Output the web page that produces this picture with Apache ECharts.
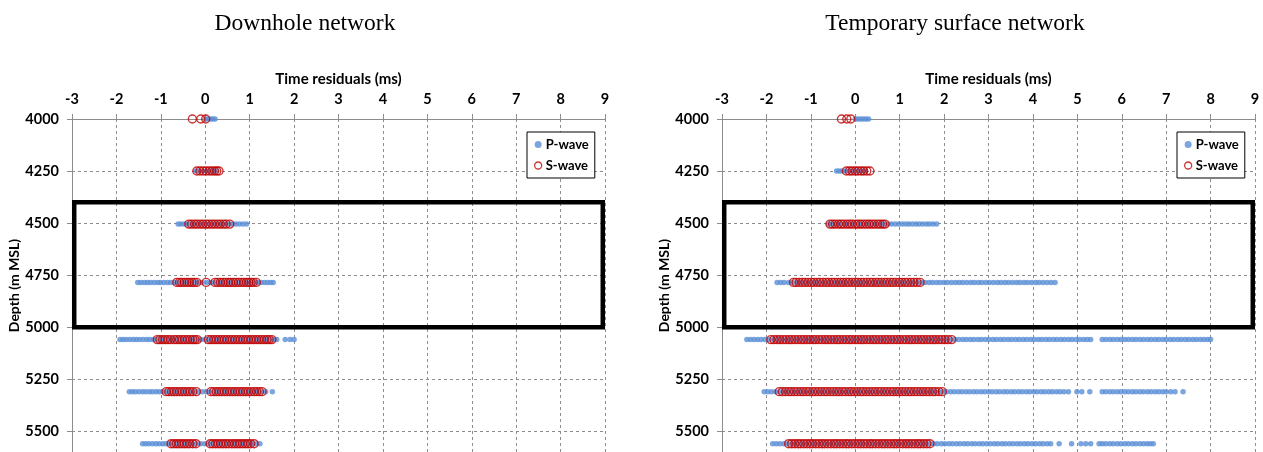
<!DOCTYPE html>
<html>
<head>
<meta charset="utf-8">
<script src="https://cdn.jsdelivr.net/npm/echarts@6/dist/echarts.min.js"></script>
<style>
  html, body { margin: 0; padding: 0; background: #fff; }
  #chart { width: 1263px; height: 452px; }
</style>
</head>
<body>
<div id="chart"></div>
<script>
// depth of each row of events (m MSL)
const depths = [4000, 4250, 4505, 4785, 5060, 5310, 5560];

// Downhole network, time residuals (ms) per depth row
const downholeP = [
  [0.0, 0.06, 0.12, 0.17, 0.22],
  [-0.21, -0.14, -0.06, 0.03, 0.1, 0.18, 0.26],
  [-0.61, -0.55, -0.48, -0.42, -0.35, -0.27, -0.18, -0.09, 0.0, 0.09, 0.18, 0.28, 0.37, 0.46, 0.55, 0.62, 0.69, 0.77, 0.85, 0.93],
  [-1.52, -1.45, -1.37, -1.3, -1.23, -1.15, -1.07, -1.01, -0.93, -0.85, -0.78, -0.7, -0.61, -0.52, -0.43, -0.34, -0.25, -0.16, -0.07, 0.03, 0.12, 0.21, 0.3, 0.39, 0.48, 0.57, 0.66, 0.75, 0.84, 0.93, 1.02, 1.1, 1.18, 1.26, 1.33, 1.4, 1.47, 1.53],
  [-1.92, -1.85, -1.78, -1.7, -1.62, -1.55, -1.48, -1.4, -1.32, -1.25, -1.17, -1.09, -1.0, -0.91, -0.82, -0.73, -0.64, -0.55, -0.46, -0.37, -0.28, -0.19, -0.1, -0.01, 0.07, 0.16, 0.25, 0.34, 0.43, 0.52, 0.61, 0.7, 0.79, 0.88, 0.97, 1.06, 1.15, 1.24, 1.32, 1.39, 1.46, 1.54, 1.61, 1.8, 1.91, 2.0],
  [-1.71, -1.64, -1.57, -1.49, -1.41, -1.34, -1.26, -1.19, -1.11, -1.04, -0.96, -0.88, -0.79, -0.7, -0.61, -0.52, -0.43, -0.34, -0.25, -0.16, -0.07, 0.02, 0.11, 0.2, 0.29, 0.38, 0.47, 0.56, 0.65, 0.74, 0.83, 0.92, 1.01, 1.1, 1.18, 1.27, 1.36, 1.51],
  [-1.41, -1.34, -1.27, -1.19, -1.11, -1.04, -0.96, -0.89, -0.81, -0.73, -0.64, -0.55, -0.46, -0.37, -0.28, -0.19, -0.1, -0.01, 0.08, 0.17, 0.26, 0.35, 0.44, 0.53, 0.62, 0.71, 0.8, 0.89, 0.98, 1.07, 1.15, 1.23]
];
const downholeS = [
  [-0.29, -0.1, 0.01],
  [-0.19, -0.12, -0.05, 0.02, 0.09, 0.15, 0.21, 0.26, 0.31],
  [-0.37, -0.31, -0.24, -0.18, -0.11, -0.05, 0.02, 0.08, 0.15, 0.21, 0.28, 0.34, 0.41, 0.47, 0.55],
  [-0.64, -0.58, -0.53, -0.47, -0.41, -0.36, -0.3, -0.25, -0.19, 0.02, 0.22, 0.28, 0.34, 0.4, 0.46, 0.52, 0.57, 0.63, 0.69, 0.75, 0.81, 0.87, 0.93, 0.98, 1.03, 1.08, 1.15],
  [-1.08, -1.02, -0.96, -0.9, -0.84, -0.78, -0.7, -0.64, -0.58, -0.52, -0.46, -0.4, -0.34, -0.28, -0.23, -0.18, 0.07, 0.13, 0.19, 0.25, 0.31, 0.37, 0.43, 0.49, 0.55, 0.61, 0.67, 0.73, 0.79, 0.85, 0.91, 0.97, 1.03, 1.09, 1.15, 1.21, 1.27, 1.33, 1.39, 1.44, 1.5],
  [-0.88, -0.82, -0.76, -0.7, -0.64, -0.58, -0.52, -0.46, -0.4, -0.34, -0.28, -0.2, 0.13, 0.19, 0.25, 0.31, 0.37, 0.43, 0.49, 0.55, 0.61, 0.67, 0.73, 0.79, 0.85, 0.91, 0.97, 1.03, 1.1, 1.16, 1.22, 1.28],
  [-0.77, -0.71, -0.65, -0.59, -0.53, -0.47, -0.41, -0.35, -0.28, -0.21, 0.11, 0.17, 0.23, 0.29, 0.35, 0.41, 0.47, 0.53, 0.6, 0.66, 0.72, 0.78, 0.84, 0.9, 0.96, 1.02, 1.1]
];

// Temporary surface network
const surfaceP = [
  [0.0, 0.06, 0.12, 0.18, 0.24, 0.3],
  [-0.42, -0.36, -0.3, -0.22, -0.13, -0.04, 0.05, 0.14, 0.23],
  [-0.6, -0.52, -0.43, -0.33, -0.23, -0.13, -0.03, 0.07, 0.17, 0.27, 0.37, 0.47, 0.57, 0.66, 0.74, 0.82, 0.9, 0.98, 1.06, 1.14, 1.21, 1.29, 1.37, 1.44, 1.52, 1.6, 1.67, 1.75, 1.83],
  [-1.76, -1.68, -1.6, -1.5, -1.41, -1.3, -1.2, -1.11, -1.0, -0.9, -0.81, -0.7, -0.6, -0.51, -0.4, -0.3, -0.21, -0.1, 0.0, 0.1, 0.19, 0.3, 0.4, 0.49, 0.6, 0.7, 0.79, 0.9, 1.0, 1.09, 1.2, 1.3, 1.4, 1.49, 1.57, 1.66, 1.74, 1.83, 1.91, 2.0, 2.08, 2.17, 2.26, 2.34, 2.42, 2.51, 2.6, 2.68, 2.77, 2.85, 2.94, 3.02, 3.11, 3.2, 3.28, 3.37, 3.45, 3.54, 3.63, 3.71, 3.8, 3.88, 3.97, 4.06, 4.14, 4.23, 4.32, 4.41, 4.5],
  [-2.44, -2.36, -2.28, -2.2, -2.12, -2.03, -1.94, -1.84, -1.74, -1.64, -1.54, -1.44, -1.34, -1.24, -1.14, -1.04, -0.94, -0.84, -0.74, -0.64, -0.54, -0.44, -0.34, -0.24, -0.14, -0.04, 0.06, 0.16, 0.26, 0.36, 0.46, 0.56, 0.66, 0.76, 0.86, 0.96, 1.06, 1.16, 1.26, 1.36, 1.46, 1.56, 1.66, 1.76, 1.86, 1.96, 2.06, 2.16, 2.25, 2.33, 2.42, 2.5, 2.59, 2.67, 2.76, 2.84, 2.93, 3.01, 3.1, 3.18, 3.27, 3.35, 3.44, 3.52, 3.61, 3.69, 3.78, 3.86, 3.95, 4.03, 4.12, 4.2, 4.29, 4.37, 4.46, 4.54, 4.63, 4.71, 4.8, 4.88, 4.97, 5.05, 5.14, 5.22, 5.3, 5.56, 5.64, 5.73, 5.81, 5.9, 5.98, 6.07, 6.15, 6.24, 6.32, 6.41, 6.49, 6.58, 6.66, 6.75, 6.83, 6.92, 7.0, 7.09, 7.17, 7.26, 7.34, 7.43, 7.51, 7.6, 7.68, 7.77, 7.85, 7.93, 8.0],
  [-2.05, -1.97, -1.89, -1.8, -1.71, -1.61, -1.51, -1.41, -1.31, -1.21, -1.11, -1.01, -0.91, -0.81, -0.71, -0.61, -0.51, -0.41, -0.31, -0.21, -0.11, -0.01, 0.09, 0.19, 0.29, 0.39, 0.49, 0.59, 0.69, 0.79, 0.89, 0.99, 1.09, 1.19, 1.29, 1.39, 1.49, 1.59, 1.69, 1.79, 1.89, 1.98, 2.06, 2.15, 2.23, 2.32, 2.4, 2.49, 2.57, 2.66, 2.74, 2.83, 2.91, 3.0, 3.08, 3.17, 3.25, 3.34, 3.42, 3.51, 3.59, 3.68, 3.76, 3.85, 3.93, 4.02, 4.1, 4.19, 4.27, 4.36, 4.44, 4.53, 4.61, 4.7, 4.8, 4.99, 5.1, 5.28, 5.56, 5.64, 5.73, 5.81, 5.9, 5.98, 6.07, 6.15, 6.24, 6.32, 6.41, 6.49, 6.58, 6.66, 6.75, 6.83, 6.92, 7.0, 7.1, 7.2, 7.38],
  [-1.86, -1.78, -1.7, -1.61, -1.52, -1.42, -1.32, -1.22, -1.12, -1.02, -0.92, -0.82, -0.72, -0.62, -0.52, -0.42, -0.32, -0.22, -0.12, -0.02, 0.08, 0.18, 0.28, 0.38, 0.48, 0.58, 0.68, 0.78, 0.88, 0.98, 1.08, 1.18, 1.28, 1.38, 1.48, 1.58, 1.68, 1.77, 1.85, 1.94, 2.02, 2.11, 2.19, 2.28, 2.36, 2.45, 2.53, 2.62, 2.7, 2.79, 2.87, 2.96, 3.04, 3.13, 3.21, 3.3, 3.38, 3.47, 3.55, 3.64, 3.72, 3.81, 3.89, 3.98, 4.06, 4.15, 4.23, 4.32, 4.4, 4.59, 4.87, 5.08, 5.19, 5.3, 5.49, 5.56, 5.64, 5.73, 5.81, 5.9, 5.98, 6.07, 6.15, 6.24, 6.32, 6.41, 6.49, 6.57, 6.64, 6.71]
];
const surfaceS = [
  [-0.31, -0.19, -0.1],
  [-0.2, -0.13, -0.07, 0.0, 0.06, 0.13, 0.19, 0.26, 0.33],
  [-0.57, -0.51, -0.45, -0.38, -0.32, -0.26, -0.19, -0.13, -0.07, 0.0, 0.06, 0.12, 0.18, 0.25, 0.31, 0.37, 0.43, 0.5, 0.56, 0.62, 0.67],
  [-1.39, -1.33, -1.26, -1.19, -1.13, -1.06, -0.99, -0.93, -0.86, -0.8, -0.73, -0.66, -0.6, -0.53, -0.47, -0.4, -0.33, -0.27, -0.2, -0.14, -0.07, 0.0, 0.06, 0.13, 0.19, 0.26, 0.33, 0.39, 0.46, 0.52, 0.59, 0.66, 0.72, 0.79, 0.85, 0.92, 0.99, 1.05, 1.12, 1.18, 1.25, 1.32, 1.39, 1.46],
  [-1.9, -1.83, -1.76, -1.7, -1.63, -1.56, -1.49, -1.43, -1.36, -1.29, -1.22, -1.16, -1.09, -1.02, -0.95, -0.89, -0.82, -0.75, -0.68, -0.62, -0.55, -0.48, -0.41, -0.35, -0.28, -0.21, -0.14, -0.08, -0.01, 0.06, 0.13, 0.19, 0.26, 0.33, 0.4, 0.46, 0.53, 0.6, 0.67, 0.73, 0.8, 0.87, 0.94, 1.0, 1.07, 1.14, 1.21, 1.27, 1.34, 1.41, 1.48, 1.54, 1.61, 1.68, 1.75, 1.81, 1.88, 1.95, 2.02, 2.09, 2.17],
  [-1.71, -1.64, -1.57, -1.5, -1.44, -1.37, -1.3, -1.23, -1.17, -1.1, -1.03, -0.96, -0.9, -0.83, -0.76, -0.69, -0.63, -0.56, -0.49, -0.42, -0.36, -0.29, -0.22, -0.15, -0.09, -0.02, 0.05, 0.12, 0.18, 0.25, 0.32, 0.39, 0.45, 0.52, 0.59, 0.66, 0.72, 0.79, 0.86, 0.93, 0.99, 1.06, 1.13, 1.2, 1.26, 1.33, 1.4, 1.47, 1.53, 1.6, 1.67, 1.74, 1.8, 1.88, 1.96],
  [-1.5, -1.43, -1.36, -1.29, -1.23, -1.16, -1.09, -1.02, -0.96, -0.89, -0.82, -0.75, -0.69, -0.62, -0.55, -0.48, -0.42, -0.35, -0.28, -0.21, -0.15, -0.08, -0.01, 0.06, 0.12, 0.19, 0.26, 0.33, 0.39, 0.46, 0.53, 0.6, 0.66, 0.73, 0.8, 0.87, 0.93, 1.0, 1.07, 1.14, 1.2, 1.27, 1.34, 1.41, 1.47, 1.54, 1.61, 1.68]
];

const xTicks = { min: -3, max: 9, interval: 1 };
const boxDepth = [4400, 5000];

const font = 'Lato, "Liberation Sans", sans-serif';
const blue = '#5a8fd6';
const red = '#c00000';

let toPoints = (rows) => rows.flatMap((xs, i) => xs.map(x => [x, depths[i]]));

let makeX = (idx) => ({
  gridIndex: idx,
  type: 'value',
  position: 'top',
  min: xTicks.min,
  max: xTicks.max,
  interval: xTicks.interval,
  name: 'Time residuals (ms)',
  nameLocation: 'middle',
  nameGap: 30,
  nameTextStyle: { fontFamily: font, fontWeight: 'bold', fontSize: 15, color: '#000' },
  axisLine: { show: true, lineStyle: { color: '#8c8c8c', width: 1 } },
  axisTick: { show: true, inside: false, length: 5, lineStyle: { color: '#8c8c8c' } },
  axisLabel: { fontFamily: font, fontWeight: 'bold', fontSize: 14.5, color: '#000', margin: 12 },
  splitLine: { show: true, lineStyle: { color: '#8c8c8c', type: [3, 3], width: 1 } }
});

let makeY = (idx) => ({
  gridIndex: idx,
  type: 'value',
  inverse: true,
  min: 4000,
  max: 5600,
  interval: 250,
  name: 'Depth (m MSL)',
  nameLocation: 'middle',
  nameGap: 51,
  nameRotate: 90,
  nameTextStyle: { fontFamily: font, fontWeight: 'bold', fontSize: 14, color: '#000' },
  axisLine: { show: true, onZero: false, lineStyle: { color: '#8c8c8c', width: 1 } },
  axisTick: { show: true, inside: false, length: 5, lineStyle: { color: '#8c8c8c' } },
  axisLabel: {
    fontFamily: font, fontWeight: 'bold', fontSize: 14.5, color: '#000', margin: 13,
    formatter: v => (v % 250 === 0 ? String(v) : '')
  },
  splitLine: { show: true, lineStyle: { color: '#8c8c8c', type: [3, 3], width: 1 } }
});

let makeSeries = (idx, pRows, sRows) => [
  {
    name: 'P-wave',
    type: 'scatter',
    xAxisIndex: idx,
    yAxisIndex: idx,
    symbol: 'circle',
    symbolSize: 5.5,
    itemStyle: { color: blue },
    data: toPoints(pRows),
    animation: false
  },
  {
    name: 'S-wave',
    type: 'scatter',
    xAxisIndex: idx,
    yAxisIndex: idx,
    symbol: 'circle',
    symbolSize: 8,
    itemStyle: { color: 'rgba(255,255,255,0)', borderColor: red, borderWidth: 1.4 },
    data: toPoints(sRows),
    animation: false,
    markArea: {
      silent: true,
      itemStyle: { color: 'rgba(0,0,0,0)', borderColor: '#000', borderWidth: 4.5 },
      data: [[{ coord: [-2.95, boxDepth[0]] }, { coord: [8.95, boxDepth[1]] }]]
    }
  }
];

let makeLegend = (left) => ({
  orient: 'vertical',
  left: left,
  top: 132,
  padding: [6, 6, 6, 7],
  itemGap: 8,
  itemWidth: 7,
  itemHeight: 7,
  backgroundColor: '#fff',
  borderColor: '#000',
  borderWidth: 1,
  textStyle: { fontFamily: font, fontWeight: 'bold', fontSize: 13, color: '#000', padding: [0, 0, 0, -1] },
  data: [
    { name: 'P-wave', icon: 'circle', itemStyle: { color: blue } },
    { name: 'S-wave', icon: 'circle', itemStyle: { color: '#fff', borderColor: red, borderWidth: 1.3 } }
  ]
});

let chartInstance = echarts.init(document.getElementById('chart'));

const titleStyle = { fontFamily: '"Liberation Serif", serif', fontWeight: 'normal', fontSize: 23.5, color: '#000' };

const option = {
  animation: false,
  backgroundColor: '#fff',
  title: [
    { text: 'Downhole network', left: 300, top: 7, textAlign: 'center', textStyle: titleStyle },
    { text: 'Temporary surface network', left: 950, top: 7, textAlign: 'center', textStyle: titleStyle }
  ],
  legend: [makeLegend(527), makeLegend(1177)],
  grid: [
    { left: 72, top: 119, width: 533, bottom: 0 },
    { left: 722, top: 119, width: 533, bottom: 0 }
  ],
  xAxis: [makeX(0), makeX(1)],
  yAxis: [makeY(0), makeY(1)],
  series: [...makeSeries(0, downholeP, downholeS), ...makeSeries(1, surfaceP, surfaceS)]
};

chartInstance.setOption(option);
</script>
</body>
</html>
